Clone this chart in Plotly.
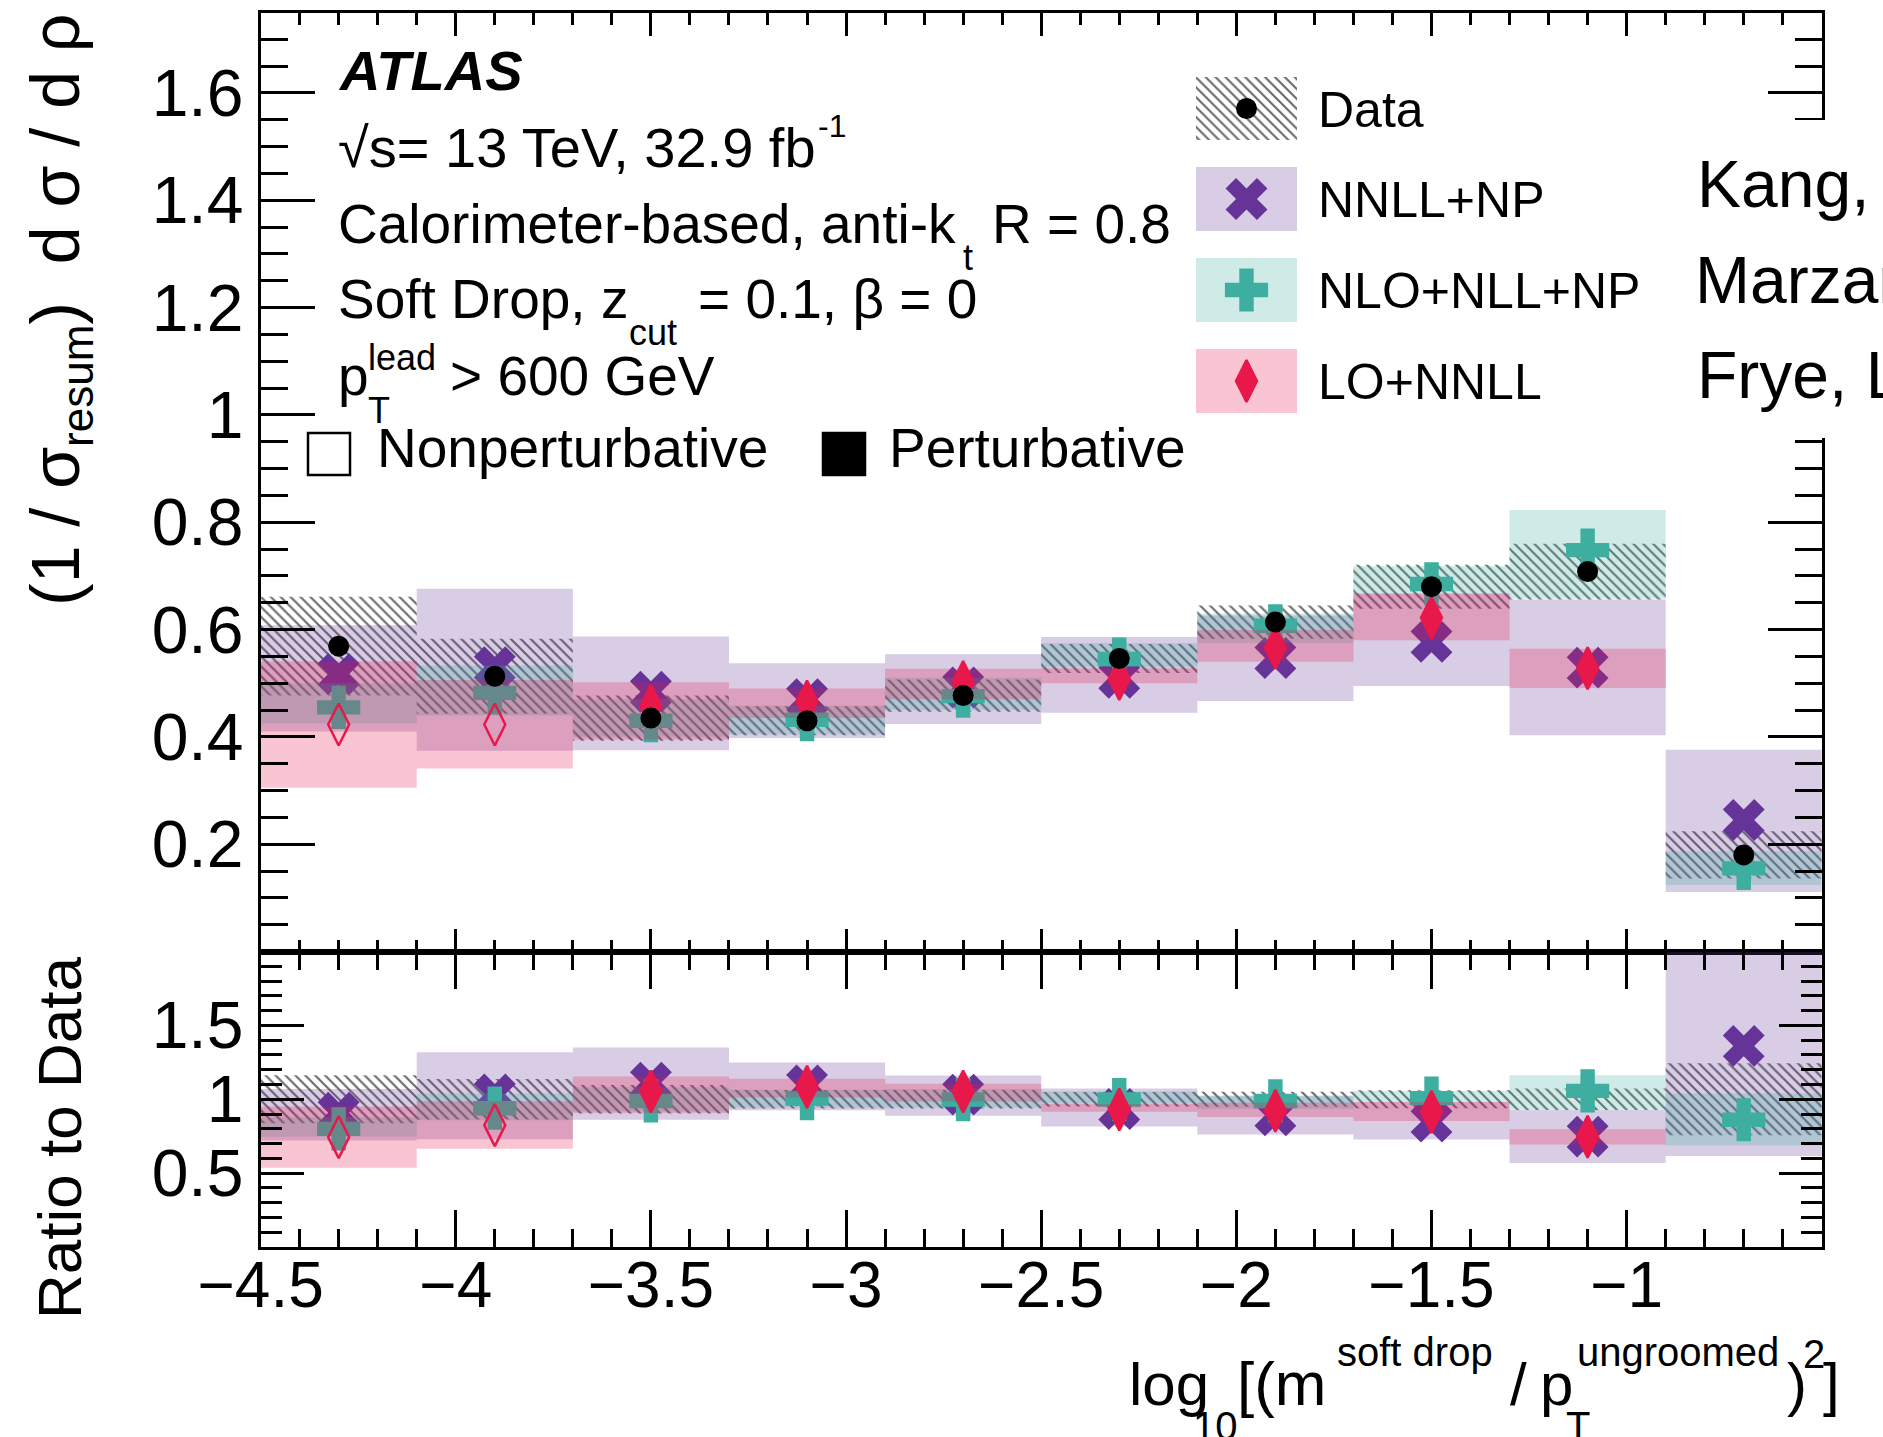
import plotly.graph_objects as go

W, H = 1883, 1437
FONT = "Liberation Sans, Arial, Helvetica, sans-serif"

# ---------------- data ----------------
bin_edges = [-4.5, -4.1, -3.7, -3.3, -2.9, -2.5, -2.1, -1.7, -1.3, -0.9, -0.5]
bin_centers = [-4.3, -3.9, -3.5, -3.1, -2.7, -2.3, -1.9, -1.5, -1.1, -0.7]

data_val = [0.569, 0.513, 0.435, 0.430, 0.477, 0.546, 0.614, 0.680, 0.708, 0.180]
data_err = [0.092, 0.070, 0.042, 0.027, 0.030, 0.027, 0.031, 0.041, 0.052, 0.044]

nnll_val = [0.517, 0.530, 0.484, 0.470, 0.492, 0.510, 0.547, 0.577, 0.529, 0.245]
nnll_lo = [0.410, 0.374, 0.375, 0.398, 0.424, 0.445, 0.467, 0.495, 0.403, 0.111]
nnll_hi = [0.608, 0.676, 0.587, 0.537, 0.554, 0.586, 0.626, 0.667, 0.656, 0.376]

nlo_val = [0.455, 0.482, 0.430, 0.432, 0.476, 0.545, 0.607, 0.685, 0.748, 0.155]
nlo_lo = [0.425, 0.440, 0.400, 0.405, 0.450, 0.530, 0.575, 0.667, 0.658, 0.124]
nlo_hi = [0.500, 0.533, 0.470, 0.458, 0.510, 0.575, 0.630, 0.718, 0.823, 0.187]

# LO+NNLL has no prediction in the last bin
lo_val = [0.423, 0.423, 0.458, 0.466, 0.502, 0.508, 0.566, 0.622, 0.528]
lo_lo = [0.305, 0.341, 0.395, 0.435, 0.470, 0.500, 0.540, 0.580, 0.491]
lo_hi = [0.541, 0.506, 0.502, 0.490, 0.527, 0.528, 0.599, 0.667, 0.564]
lo_nonperturbative = [True, True, False, False, False, False, False, False, False]

x_tick_vals = [-4.5, -4.0, -3.5, -3.0, -2.5, -2.0, -1.5, -1.0, -0.5]
x_tick_text = ["\u22124.5", "\u22124", "\u22123.5", "\u22123", "\u22122.5", "\u22122", "\u22121.5", "\u22121", "\u22120.5"]
y_main_tick_vals = [0.2, 0.4, 0.6, 0.8, 1.0, 1.2, 1.4, 1.6]
y_main_tick_text = ["0.2", "0.4", "0.6", "0.8", "1", "1.2", "1.4", "1.6"]
y_ratio_tick_vals = [0.5, 1.0, 1.5]
y_ratio_tick_text = ["0.5", "1", "1.5"]

series_names = ["Data", "NNLL+NP", "NLO+NLL+NP", "LO+NNLL"]

# ---------------- styles ----------------
PURPLE = "rgb(102,51,153)"
PURPLE_BAND = "rgba(102,51,153,0.25)"
TEAL = "rgb(61,174,160)"
TEAL_BAND = "rgba(61,174,160,0.25)"
RED = "rgb(232,24,74)"
RED_BAND = "rgba(232,24,74,0.25)"
HATCH = "rgba(90,90,90,0.9)"
HATCH_PATTERN = dict(shape="\\", fgcolor=HATCH, bgcolor="rgba(0,0,0,0)",
                     size=7, solidity=0.3, fillmode="replace")

SZ_DOT, SZ_X, SZ_CROSS, SZ_DIA = 21, 37, 36, 30


def band_xy(lo, hi):
    xs, ys = [], []
    for i in range(len(lo)):
        x0, x1 = bin_edges[i], bin_edges[i + 1]
        xs += [x0, x1, x1, x0, x0, None]
        ys += [lo[i], lo[i], hi[i], hi[i], lo[i], None]
    return xs, ys


def ratio(vals):
    return [v / data_val[i] for i, v in enumerate(vals)]


fig = go.Figure()


def add_panel(xa, ya, is_ratio):
    if is_ratio:
        d_lo = [1 - e / d for d, e in zip(data_val, data_err)]
        d_hi = [1 + e / d for d, e in zip(data_val, data_err)]
        a_val, a_lo, a_hi = ratio(nnll_val), ratio(nnll_lo), ratio(nnll_hi)
        b_val, b_lo, b_hi = ratio(nlo_val), ratio(nlo_lo), ratio(nlo_hi)
        c_val, c_lo, c_hi = ratio(lo_val), ratio(lo_lo), ratio(lo_hi)
    else:
        d_lo = [d - e for d, e in zip(data_val, data_err)]
        d_hi = [d + e for d, e in zip(data_val, data_err)]
        a_val, a_lo, a_hi = nnll_val, nnll_lo, nnll_hi
        b_val, b_lo, b_hi = nlo_val, nlo_lo, nlo_hi
        c_val, c_lo, c_hi = lo_val, lo_lo, lo_hi

    common = dict(xaxis=xa, yaxis=ya, hoverinfo="skip", showlegend=False)
    # data uncertainty (hatched)
    hx, hy = band_xy(d_lo, d_hi)
    fig.add_trace(go.Scatter(x=hx, y=hy, mode="none", fill="toself",
                             fillcolor="rgba(0,0,0,0)", fillpattern=HATCH_PATTERN, **common))
    # NNLL+NP
    bx, by = band_xy(a_lo, a_hi)
    fig.add_trace(go.Scatter(x=bx, y=by, mode="none", fill="toself", fillcolor=PURPLE_BAND, **common))
    fig.add_trace(go.Scatter(x=bin_centers, y=a_val, mode="markers",
                             marker=dict(symbol="x", size=SZ_X, color=PURPLE, line=dict(width=0)), **common))
    # NLO+NLL+NP
    bx, by = band_xy(b_lo, b_hi)
    fig.add_trace(go.Scatter(x=bx, y=by, mode="none", fill="toself", fillcolor=TEAL_BAND, **common))
    fig.add_trace(go.Scatter(x=bin_centers, y=b_val, mode="markers",
                             marker=dict(symbol="cross", size=SZ_CROSS, color=TEAL, line=dict(width=0)), **common))
    # LO+NNLL
    bx, by = band_xy(c_lo, c_hi)
    fig.add_trace(go.Scatter(x=bx, y=by, mode="none", fill="toself", fillcolor=RED_BAND, **common))
    syms = ["diamond-tall-open" if npf else "diamond-tall" for npf in lo_nonperturbative]
    fig.add_trace(go.Scatter(x=bin_centers[:len(c_val)], y=c_val, mode="markers",
                             marker=dict(symbol=syms, size=SZ_DIA, color=RED,
                                         line=dict(width=2.5, color=RED)), **common))
    # data points (main panel only)
    if not is_ratio:
        fig.add_trace(go.Scatter(x=bin_centers, y=data_val, mode="markers",
                                 marker=dict(symbol="circle", size=SZ_DOT, color="black", line=dict(width=0)),
                                 **common))


add_panel("x", "y", False)
add_panel("x2", "y2", True)

# ---------------- legend keys (pixel-space overlay axes) ----------------
leg_x0, leg_x1 = 1196, 1297
leg_rows = [(77, 140), (167, 231), (258, 322), (349, 413)]
leg_fill = [None, PURPLE_BAND, TEAL_BAND, RED_BAND]
leg_sym = ["circle", "x", "cross", "diamond-tall"]
leg_col = ["black", PURPLE, TEAL, RED]
leg_size = [SZ_DOT, SZ_X, SZ_CROSS, SZ_DIA]
lc = dict(xaxis="x3", yaxis="y3", hoverinfo="skip", showlegend=False)
for k, (t, b) in enumerate(leg_rows):
    xs = [leg_x0, leg_x1, leg_x1, leg_x0, leg_x0]
    ys = [t, t, b, b, t]
    if leg_fill[k] is None:
        fig.add_trace(go.Scatter(x=xs, y=ys, mode="none", fill="toself",
                                 fillcolor="rgba(0,0,0,0)", fillpattern=HATCH_PATTERN, **lc))
    else:
        fig.add_trace(go.Scatter(x=xs, y=ys, mode="none", fill="toself", fillcolor=leg_fill[k], **lc))
    fig.add_trace(go.Scatter(x=[(leg_x0 + leg_x1) / 2], y=[(t + b) / 2], mode="markers",
                             marker=dict(symbol=leg_sym[k], size=leg_size[k], color=leg_col[k],
                                         line=dict(width=2.5 if k == 3 else 0, color=leg_col[k])), **lc))

# ---------------- axes ----------------
X_DOM = [260.6 / W, 1821.8 / W]
Y1_DOM = [1 - 951.5 / H, 1 - 12.5 / H]
Y2_DOM = [1 - 1247.0 / H, 1 - 951.5 / H]

ax_common = dict(showline=True, linecolor="black", linewidth=3, mirror="ticks",
                 ticks="inside", tickcolor="black", tickwidth=2.5, automargin=False,
                 showgrid=False, zeroline=False, fixedrange=True)
XFONT = dict(family=FONT, size=64, color="black")
YFONT = dict(family=FONT, size=66, color="black")

fig.update_layout(
    xaxis=dict(domain=X_DOM, anchor="y", range=[-4.5, -0.5], tickmode="array", tickvals=x_tick_vals,
               showticklabels=False, ticklen=23, tickfont=XFONT,
               minor=dict(tickmode="linear", tick0=-4.5, dtick=0.1, ticklen=12, ticks="inside",
                          tickwidth=2.5, tickcolor="black"), **ax_common),
    yaxis=dict(domain=Y1_DOM, anchor="x", range=[0, 1.75], tickmode="array", tickvals=y_main_tick_vals,
               ticktext=y_main_tick_text, ticklen=54, ticklabelstandoff=1, tickfont=YFONT,
               minor=dict(tickmode="linear", tick0=0, dtick=0.05, ticklen=27, ticks="inside",
                          tickwidth=2.5, tickcolor="black"), **ax_common),
    xaxis2=dict(domain=X_DOM, anchor="y2", range=[-4.5, -0.5], tickmode="array", tickvals=x_tick_vals,
                ticktext=x_tick_text, ticklen=37, ticklabelstandoff=-20, tickfont=XFONT,
                minor=dict(tickmode="linear", tick0=-4.5, dtick=0.1, ticklen=18, ticks="inside",
                           tickwidth=2.5, tickcolor="black"), **ax_common),
    yaxis2=dict(domain=Y2_DOM, anchor="x2", range=[0, 2], tickmode="array", tickvals=y_ratio_tick_vals,
                ticktext=y_ratio_tick_text, ticklen=43, ticklabelstandoff=1, tickfont=YFONT,
                minor=dict(tickmode="linear", tick0=0, dtick=0.1, ticklen=21, ticks="inside",
                           tickwidth=2.5, tickcolor="black"), **ax_common),
    xaxis3=dict(domain=[0, 1], anchor="y3", range=[0, W], visible=False, fixedrange=True, automargin=False),
    yaxis3=dict(domain=[0, 1], anchor="x3", range=[H, 0], visible=False, fixedrange=True, automargin=False),
    width=W, height=H,
    margin=dict(l=0, r=0, t=0, b=0, pad=0, autoexpand=False),
    paper_bgcolor="white", plot_bgcolor="rgba(0,0,0,0)",
    showlegend=False,
    font=dict(family=FONT, color="black"),
)

# ---------------- shapes ----------------
shapes = [
    # white box of the references legend, covering the right axis
    dict(type="rect", xref="paper", yref="paper", x0=1690 / W, x1=1.0, y0=1 - 438 / H, y1=1 - 120 / H,
         fillcolor="white", line=dict(width=0), layer="above"),
    # Nonperturbative (open) / Perturbative (filled) keys
    dict(type="rect", xref="paper", yref="paper", x0=308 / W, x1=350 / W, y0=1 - 475 / H, y1=1 - 433 / H,
         fillcolor="rgba(0,0,0,0)", line=dict(width=2.5, color="black")),
    dict(type="rect", xref="paper", yref="paper", x0=823 / W, x1=865 / W, y0=1 - 475 / H, y1=1 - 433 / H,
         fillcolor="black", line=dict(width=2.5, color="black")),
]
fig.update_layout(shapes=shapes)


# ---------------- text ----------------
def T(text, x, base, fs):
    return dict(text=text, x=x / W, y=1 - (base + 0.212 * fs) / H, xref="paper", yref="paper",
                xanchor="left", yanchor="bottom", showarrow=False, borderpad=0, borderwidth=0,
                font=dict(family=FONT, size=fs, color="black"))


texts = [
    ("<b><i>ATLAS</i></b>", 338, 90, 56),
    ("\u221as= 13 TeV, 32.9 fb", 338, 167, 56),
    ("-1", 818, 137, 32),
    ("Calorimeter-based, anti-k", 338, 243, 55),
    ("t", 963, 270, 36),
    ("R = 0.8", 992, 243, 55),
    ("Soft Drop, z", 338, 318, 55),
    ("cut", 629, 345, 36),
    ("= 0.1, \u03b2 = 0", 698, 318, 55),
    ("p", 338, 395, 55),
    ("lead", 368, 370, 36),
    ("T", 368, 423, 36),
    ("> 600 GeV", 450, 395, 55),
    ("Nonperturbative", 377, 467, 55),
    ("Perturbative", 889, 467, 55),
    (series_names[0], 1318, 127, 50),
    (series_names[1], 1318, 217, 50),
    (series_names[2], 1318, 308, 50),
    (series_names[3], 1318, 399, 50),
    ("Kang, Lee, Liu, Ringer", 1697, 207, 66),
    ("Marzani, Schunk, Soyez", 1695, 303, 66),
    ("Frye, Larkoski, Schwartz, Yan", 1697, 398, 66),
    # x-axis title pieces
    ("log", 1129, 1405, 60),
    ("10", 1193, 1440, 40),
    ("[(m", 1237, 1405, 62),
    ("soft drop", 1337, 1366, 40),
    ("/", 1510, 1405, 60),
    ("p", 1540, 1405, 60),
    ("T", 1566, 1440, 40),
    ("ungroomed", 1577, 1366, 40),
    (")", 1787, 1405, 60),
    ("2", 1803, 1368, 40),
    ("]", 1823, 1405, 60),
]
annotations = [T(*t) for t in texts]

annotations.append(dict(text="(1 / \u03c3<sub><span style=\"font-size:44px\">resum</span></sub>)  d \u03c3 / d \u03c1",
                        x=59 / W, y=1 - 310 / H,
                        xref="paper", yref="paper", xanchor="center", yanchor="middle", textangle=-90,
                        showarrow=False, borderpad=0, borderwidth=0,
                        font=dict(family=FONT, size=68, color="black")))
annotations.append(dict(text="Ratio to Data", x=59 / W, y=1 - 1138 / H,
                        xref="paper", yref="paper", xanchor="center", yanchor="middle", textangle=-90,
                        showarrow=False, borderpad=0, borderwidth=0,
                        font=dict(family=FONT, size=62, color="black")))
fig.update_layout(annotations=annotations)

fig.write_html("out.html")
